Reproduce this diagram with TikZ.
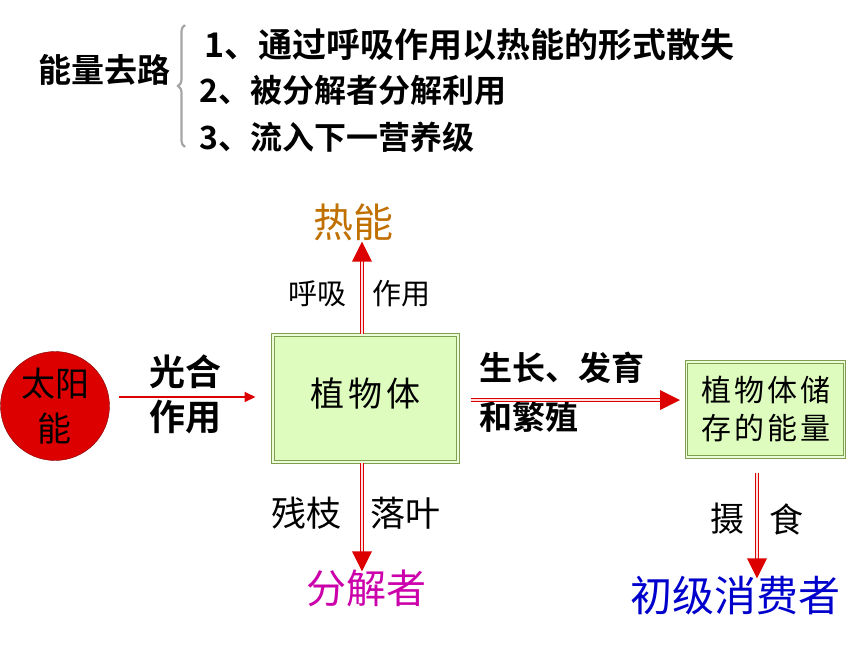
\documentclass[tikz,border=0pt]{standalone}
\usepackage{fontspec}
\newfontfamily\cjk{Noto Sans CJK SC}
\newfontfamily\cjkb{Noto Sans CJK SC Bold}
\usepackage{tikz}
\usetikzlibrary{arrows.meta,positioning,calc,decorations.pathreplacing,decorations.markings}
\definecolor{arrowred}{RGB}{221,0,0}
\definecolor{boxfill}{RGB}{221,252,190}
\definecolor{boxline}{RGB}{128,158,80}
\definecolor{heatcol}{RGB}{192,112,0}
\definecolor{decompcol}{RGB}{204,0,170}
\definecolor{conscol}{RGB}{0,0,204}
\newcommand{\fs}[1]{\fontsize{#1}{#1}\selectfont}
\tikzstyle{dblarrow} = [draw=arrowred,double=red!12!white,line width=1.5pt,double distance=1.5pt,
	postaction={decorate,decoration={markings,
		mark=at position 1 with {\fill[arrowred] (-14pt,10pt) -- (6pt,0pt) -- (-14pt,-10pt) -- cycle;}}}]
\tikzstyle{greenbox} = [draw=boxline,double=boxfill!60!white,line width=1pt,double distance=1.2pt,
	fill=boxfill,align=center,inner sep=0pt]
\tikzstyle{label} = [inner sep=0pt,align=center]

\begin{document}
\begin{tikzpicture}[x=1pt,y=-1pt]
	\useasboundingbox (0,0) rectangle (860,645);

	% energy ways
	\node[label,font=\cjkb\fs{33}] (ways) at (104,70) {能量去路};
	\node[label,anchor=west,font=\cjkb\fs{34}] (way1) at (204,45) {\textit{1}、通过呼吸作用以热能的形式散失};
	\node[label,anchor=west,font=\cjkb\fs{32}] (way2) at (199,90) {2、被分解者分解利用};
	\node[label,anchor=west,font=\cjkb\fs{32}] (way3) at (199,137) {3、流入下一营养级};
	\draw[gray!70,line width=2.2pt,decorate,decoration={brace,amplitude=7pt}]
		(185,147) -- (185,25);

	% nodes
	\node[circle,draw=red!50!black,fill=arrowred,minimum size=109pt,inner sep=0pt,
		align=center,font=\cjk\fs{34}] (sun) at (55,406) {太阳\\[11pt]能};

	\node[greenbox,minimum width=185pt,minimum height=127pt,font=\cjk\fs{34}]
		(plant) at (365.5,398.5) {\raisebox{12pt}{植\hspace{4pt}物\hspace{4pt}体}};

	\node[greenbox,minimum width=158pt,minimum height=95pt,font=\cjk\fs{30}]
		(store) at (765.5,409.5) {植\hspace{3pt}物\hspace{3pt}体\hspace{3pt}储\\[8pt]存\hspace{3pt}的\hspace{3pt}能\hspace{3pt}量};

	\node[label,font=\cjk\fs{40},text=heatcol] (heat) at (353,222) {热能};
	\node[label,font=\cjk\fs{40},text=decompcol] (decomp) at (366,588) {分解者};
	\node[label,font=\cjk\fs{42},text=conscol] (cons) at (735,596) {初级消费者};

	% arrow labels
	\node[label,font=\cjkb\fs{36}] (photo) at (185,394.5) {光合\\[9pt]作用};
	\node[label,font=\cjk\fs{29}] (resp1) at (317,294) {呼吸};
	\node[label,font=\cjk\fs{29}] (resp2) at (401,294) {作用};
	\node[label,font=\cjk\fs{35}] (litter1) at (306,513) {残枝};
	\node[label,font=\cjk\fs{35}] (litter2) at (405,513) {落叶};
	\node[label,anchor=west,font=\cjkb\fs{33}] (grow1) at (479,368) {生长、发育};
	\node[label,anchor=west,font=\cjkb\fs{33}] (grow2) at (479,417) {和繁殖};
	\node[label,font=\cjk\fs{34}] (eat1) at (727,519) {摄};
	\node[label,font=\cjk\fs{34}] (eat2) at (786,519) {食};

	% Arrows
	\coordinate (upx) at (362,0);
	\coordinate (eatx) at (757,0);
	\draw[arrowred,line width=2pt,-{Triangle[length=11pt,width=10pt]},shorten <=9pt,shorten >=17pt]
		(sun.east |- 0,397) -- (plant.west |- 0,397);
	\draw[dblarrow] ($(plant.north -| upx)+(0,-1)$) -- ($(heat.south -| upx)+(0,7)$);
	\draw[dblarrow] (plant.south -| upx) -- ($(decomp.north -| upx)+(0,-4)$);
	\draw[dblarrow] ($(plant.east |- 0,400)+(12,0)$) -- ($(store.west |- 0,400)+(-12,0)$);
	\draw[dblarrow] ($(store.south -| eatx)+(0,15)$) -- ($(cons.north -| eatx)+(0,-4)$);
\end{tikzpicture}
\end{document}
